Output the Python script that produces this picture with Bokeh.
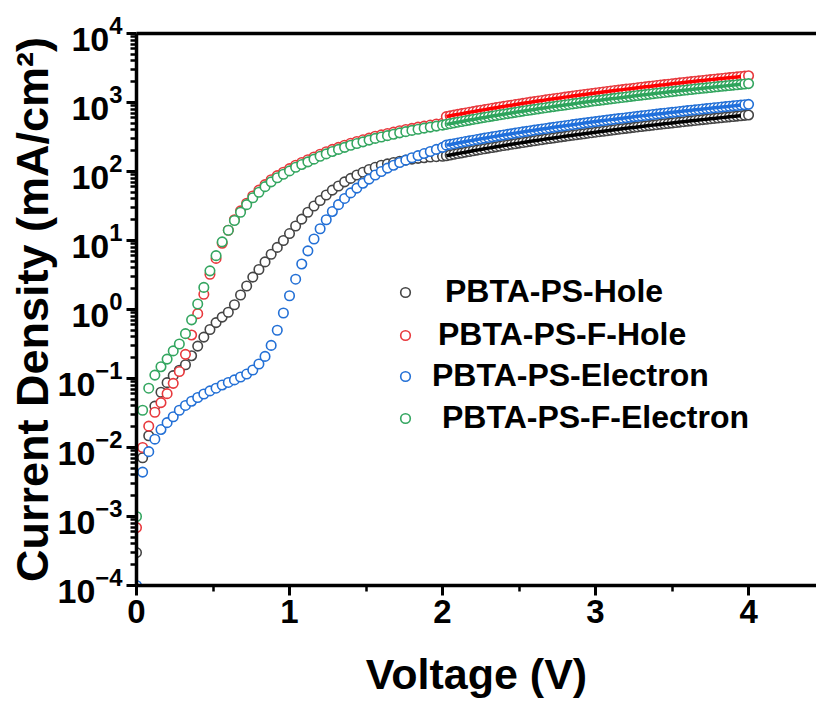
from bokeh.plotting import figure
from bokeh.models import (FixedTicker, LinearAxis, Range1d, Legend, LegendItem,
                          ColumnDataSource)
from bokeh.embed import file_html
from bokeh.resources import INLINE

# ---------------- data ----------------
SERIES_NAMES = ["PBTA-PS-Hole", "PBTA-PS-F-Hole", "PBTA-PS-Electron", "PBTA-PS-F-Electron"]

# voltage grids: 0-2 V sweep (0.04 V step) and 2-4 V sweep (0.025 V step)
V_LOW = [round(0.04 * i, 2) for i in range(51)]
V_HIGH = [round(2.0 + 0.025 * k, 3) for k in range(1, 81)]

# current density, mA/cm^2
HOLE_LOW = [3.0e-4, 7.1e-3, 0.0148, 0.0398, 0.0631, 0.0871, 0.110, 0.132, 0.158, 0.214,
            0.295, 0.398, 0.513, 0.646, 0.776, 0.912, 1.17, 1.62, 2.19, 2.95,
            3.80, 4.90, 6.31, 7.94, 10.0, 12.6, 16.2, 20.4, 25.7, 31.6,
            38.0, 45.7, 53.7, 61.7, 70.8, 79.4, 89.1, 97.7, 107, 115,
            123, 129, 135, 141, 146, 151, 155, 158, 162, 164, 166]
HOLE_HIGH = [169.1, 173.4, 177.6, 181.9, 186.3, 190.7, 195.1, 199.7, 204.2, 208.8,
             213.5, 218.2, 223.0, 227.8, 232.7, 237.6, 242.6, 247.6, 252.7, 257.8,
             263.0, 268.2, 273.5, 278.9, 284.2, 289.7, 295.2, 300.7, 306.3, 312.0,
             317.7, 323.4, 329.2, 335.1, 341.0, 346.9, 352.9, 359.0, 365.1, 371.3,
             377.5, 383.7, 390.0, 396.4, 402.8, 409.3, 415.8, 422.4, 429.0, 435.7,
             442.4, 449.2, 456.0, 462.9, 469.9, 476.9, 483.9, 491.0, 498.1, 505.3,
             512.6, 519.9, 527.2, 534.6, 542.1, 549.6, 557.1, 564.7, 572.4, 580.1,
             587.8, 595.7, 603.5, 611.4, 619.4, 627.4, 635.5, 643.6, 651.8, 660.0]

F_HOLE_LOW = [6.9e-4, 0.0100, 0.0204, 0.0324, 0.0447, 0.0603, 0.0851, 0.126, 0.224, 0.427,
              0.871, 1.66, 3.24, 5.50, 9.12, 14.1, 20.0, 26.9, 34.7, 44.2,
              53.7, 64.6, 75.9, 87.1, 97.7, 110, 123, 135, 148, 162,
              178, 193, 209, 224, 240, 257, 272, 288, 305, 324,
              339, 355, 372, 389, 406, 422, 439, 455, 471, 488, 501]
F_HOLE_HIGH = [625, 641, 657, 673, 689, 705, 721, 738, 755, 772,
               789, 807, 824, 842, 860, 878, 897, 915, 934, 953,
               972, 992, 1011, 1031, 1051, 1071, 1091, 1112, 1132, 1153,
               1174, 1196, 1217, 1239, 1261, 1283, 1305, 1327, 1350, 1373,
               1395, 1419, 1442, 1466, 1489, 1513, 1537, 1562, 1586, 1611,
               1636, 1661, 1686, 1711, 1737, 1763, 1789, 1815, 1842, 1868,
               1895, 1922, 1949, 1976, 2004, 2032, 2060, 2088, 2116, 2145,
               2173, 2202, 2231, 2260, 2290, 2320, 2349, 2379, 2410, 2440]

ELEC_LOW = [1.0e-4, 4.4e-3, 8.7e-3, 0.0132, 0.0182, 0.0229, 0.0279, 0.0347, 0.0407, 0.0468,
            0.0531, 0.0596, 0.0661, 0.0724, 0.0804, 0.0877, 0.0955, 0.105, 0.116, 0.133,
            0.162, 0.209, 0.302, 0.501, 0.891, 1.58, 2.75, 4.57, 7.08, 10.5,
            14.8, 20.0, 26.3, 33.1, 40.7, 49.0, 57.5, 67.6, 77.6, 89.1,
            100, 112, 123, 135, 146, 158, 170, 182, 195, 209, 224]
ELEC_HIGH = [240.9, 246.9, 253.0, 259.1, 265.3, 271.6, 277.9, 284.4, 290.9, 297.4,
             304.1, 310.8, 317.6, 324.5, 331.4, 338.4, 345.5, 352.7, 359.9, 367.2,
             374.6, 382.0, 389.6, 397.2, 404.8, 412.6, 420.4, 428.3, 436.3, 444.3,
             452.4, 460.6, 468.9, 477.2, 485.6, 494.1, 502.7, 511.3, 520.0, 528.8,
             537.6, 546.5, 555.5, 564.6, 573.8, 583.0, 592.3, 601.6, 611.1, 620.6,
             630.2, 639.8, 649.5, 659.3, 669.2, 679.2, 689.2, 699.3, 709.5, 719.7,
             730.0, 740.4, 750.9, 761.4, 772.0, 782.7, 793.5, 804.3, 815.2, 826.2,
             837.3, 848.4, 859.6, 870.8, 882.2, 893.6, 905.1, 916.7, 928.3, 940.0]

F_ELEC_LOW = [1.0e-3, 0.0347, 0.0724, 0.112, 0.148, 0.191, 0.251, 0.316, 0.447, 0.708,
              1.20, 2.09, 3.63, 6.03, 9.55, 14.1, 19.5, 25.7, 33.1, 41.7,
              50.1, 60.3, 70.8, 81.3, 91.2, 102, 115, 126, 138, 151,
              166, 180, 195, 209, 224, 240, 254, 269, 285, 302,
              316, 331, 347, 363, 378, 394, 409, 425, 440, 455, 470]
F_ELEC_HIGH = [481.8, 493.8, 505.9, 518.2, 530.6, 543.1, 555.9, 568.7, 581.7, 594.8,
               608.1, 621.6, 635.2, 648.9, 662.8, 676.8, 691.0, 705.3, 719.8, 734.4,
               749.1, 764.0, 779.1, 794.3, 809.6, 825.1, 840.8, 856.6, 872.5, 888.6,
               904.8, 921.2, 937.7, 954.4, 971.2, 988.2, 1005.3, 1022.5, 1040.0, 1057.5,
               1075.2, 1093.0, 1111.0, 1129.2, 1147.5, 1165.9, 1184.5, 1203.2, 1222.1, 1241.1,
               1260.3, 1279.6, 1299.0, 1318.6, 1338.4, 1358.3, 1378.4, 1398.5, 1418.9, 1439.4,
               1460.0, 1480.8, 1501.7, 1522.8, 1544.0, 1565.4, 1586.9, 1608.6, 1630.4, 1652.3,
               1674.5, 1696.7, 1719.1, 1741.6, 1764.3, 1787.2, 1810.2, 1833.3, 1856.6, 1880.0]

X_TICKS = [0, 1, 2, 3, 4]
X_MINOR = [0.5, 1.5, 2.5, 3.5]
Y_TICKS = [1e-4, 1e-3, 1e-2, 1e-1, 1e0, 1e1, 1e2, 1e3, 1e4]
Y_MINOR = [m * t for t in Y_TICKS[:-1] for m in range(2, 10)]

X_LABEL = "Voltage (V)"
Y_LABEL = "Current Density (mA/cm²)"

# ---------------- styling ----------------
FONT = "Liberation Sans"
MARKER_COLORS = ["#454545", "#e8393d", "#2370d6", "#34a660"]
LINE_COLORS = ["#000000", "#ff0000", "#1f6fdc", "#2ea45c"]

FRAME_LEFT, FRAME_TOP, FRAME_BOTTOM = 136, 33, 585
W, H = 816, 701

p = figure(width=W, height=H,
           x_range=Range1d(0, 4.444), y_range=Range1d(1e-4, 1e4),
           y_axis_type="log", output_backend="svg", toolbar_location=None,
           min_border_left=FRAME_LEFT, min_border_right=0, min_border_top=FRAME_TOP,
           min_border_bottom=H - FRAME_BOTTOM)
p.outline_line_color = None
p.grid.visible = False
p.background_fill_color = "white"
p.border_fill_color = "white"

lows = [HOLE_LOW, F_HOLE_LOW, ELEC_LOW, F_ELEC_LOW]
highs = [HOLE_HIGH, F_HOLE_HIGH, ELEC_HIGH, F_ELEC_HIGH]

renderers = []
for name, lo, hi, mc in zip(SERIES_NAMES, lows, highs, MARKER_COLORS):
    src = ColumnDataSource(dict(v=V_LOW + V_HIGH, j=lo + hi))
    r = p.scatter("v", "j", source=src, marker="circle", size=9.5,
                  line_color=mc, line_width=1.6, fill_color="white", fill_alpha=1.0)
    renderers.append(r)

# fit lines over the 2-4 V region
for hi, lc in zip(highs, LINE_COLORS):
    p.line(V_HIGH[:-2], hi[:-2], line_color=lc, line_width=3.5)

# ---------------- axes ----------------
xa = p.xaxis[0]
xa.ticker = FixedTicker(ticks=X_TICKS, minor_ticks=X_MINOR)
ya = p.yaxis[0]
ya.ticker = FixedTicker(ticks=Y_TICKS, minor_ticks=Y_MINOR)

for ax in (xa, ya):
    ax.axis_line_width = 3.5
    ax.axis_line_color = "black"
    ax.major_tick_line_width = 3
    ax.minor_tick_line_width = 2.5
    ax.major_tick_out = 10
    ax.major_tick_in = 0
    ax.minor_tick_out = 6
    ax.minor_tick_in = 0
    ax.major_label_text_font = FONT
    ax.major_label_text_font_style = "bold"
    ax.major_label_text_color = "black"
    ax.axis_label_text_font = FONT
    ax.axis_label_text_font_style = "bold"
    ax.axis_label_text_color = "black"

xa.major_label_text_font_size = "33px"
xa.axis_label = X_LABEL
xa.axis_label_text_font_size = "43px"
xa.major_label_standoff = 4
xa.axis_label_standoff = 24

ya.major_label_text_font_size = "34px"
ya.axis_label = Y_LABEL
ya.axis_label_text_font_size = "45px"
ya.major_label_standoff = 4
ya.axis_label_standoff = -3

top = LinearAxis(ticker=FixedTicker(ticks=[]), axis_line_width=3.5,
                 major_tick_out=0, minor_tick_out=0, major_tick_in=0, minor_tick_in=0)
p.add_layout(top, "above")

# ---------------- legend (one box per entry for the staggered labels) ----------------
ROW_Y = [275, 232, 191, 149]
STANDOFF = [28, 21, 15, 25]
for name, r, ry, so in zip(SERIES_NAMES, renderers, ROW_Y, STANDOFF):
    leg = Legend(items=[LegendItem(label=name, renderers=[r])], location=(257, ry),
                 padding=0, margin=0, spacing=0, border_line_color=None,
                 background_fill_alpha=0, glyph_width=24, glyph_height=36,
                 label_height=36, label_standoff=so,
                 label_text_font=FONT, label_text_font_style="bold",
                 label_text_font_size="32px", label_text_color="black")
    p.add_layout(leg)

open("out.html", "w").write(file_html(p, INLINE))
